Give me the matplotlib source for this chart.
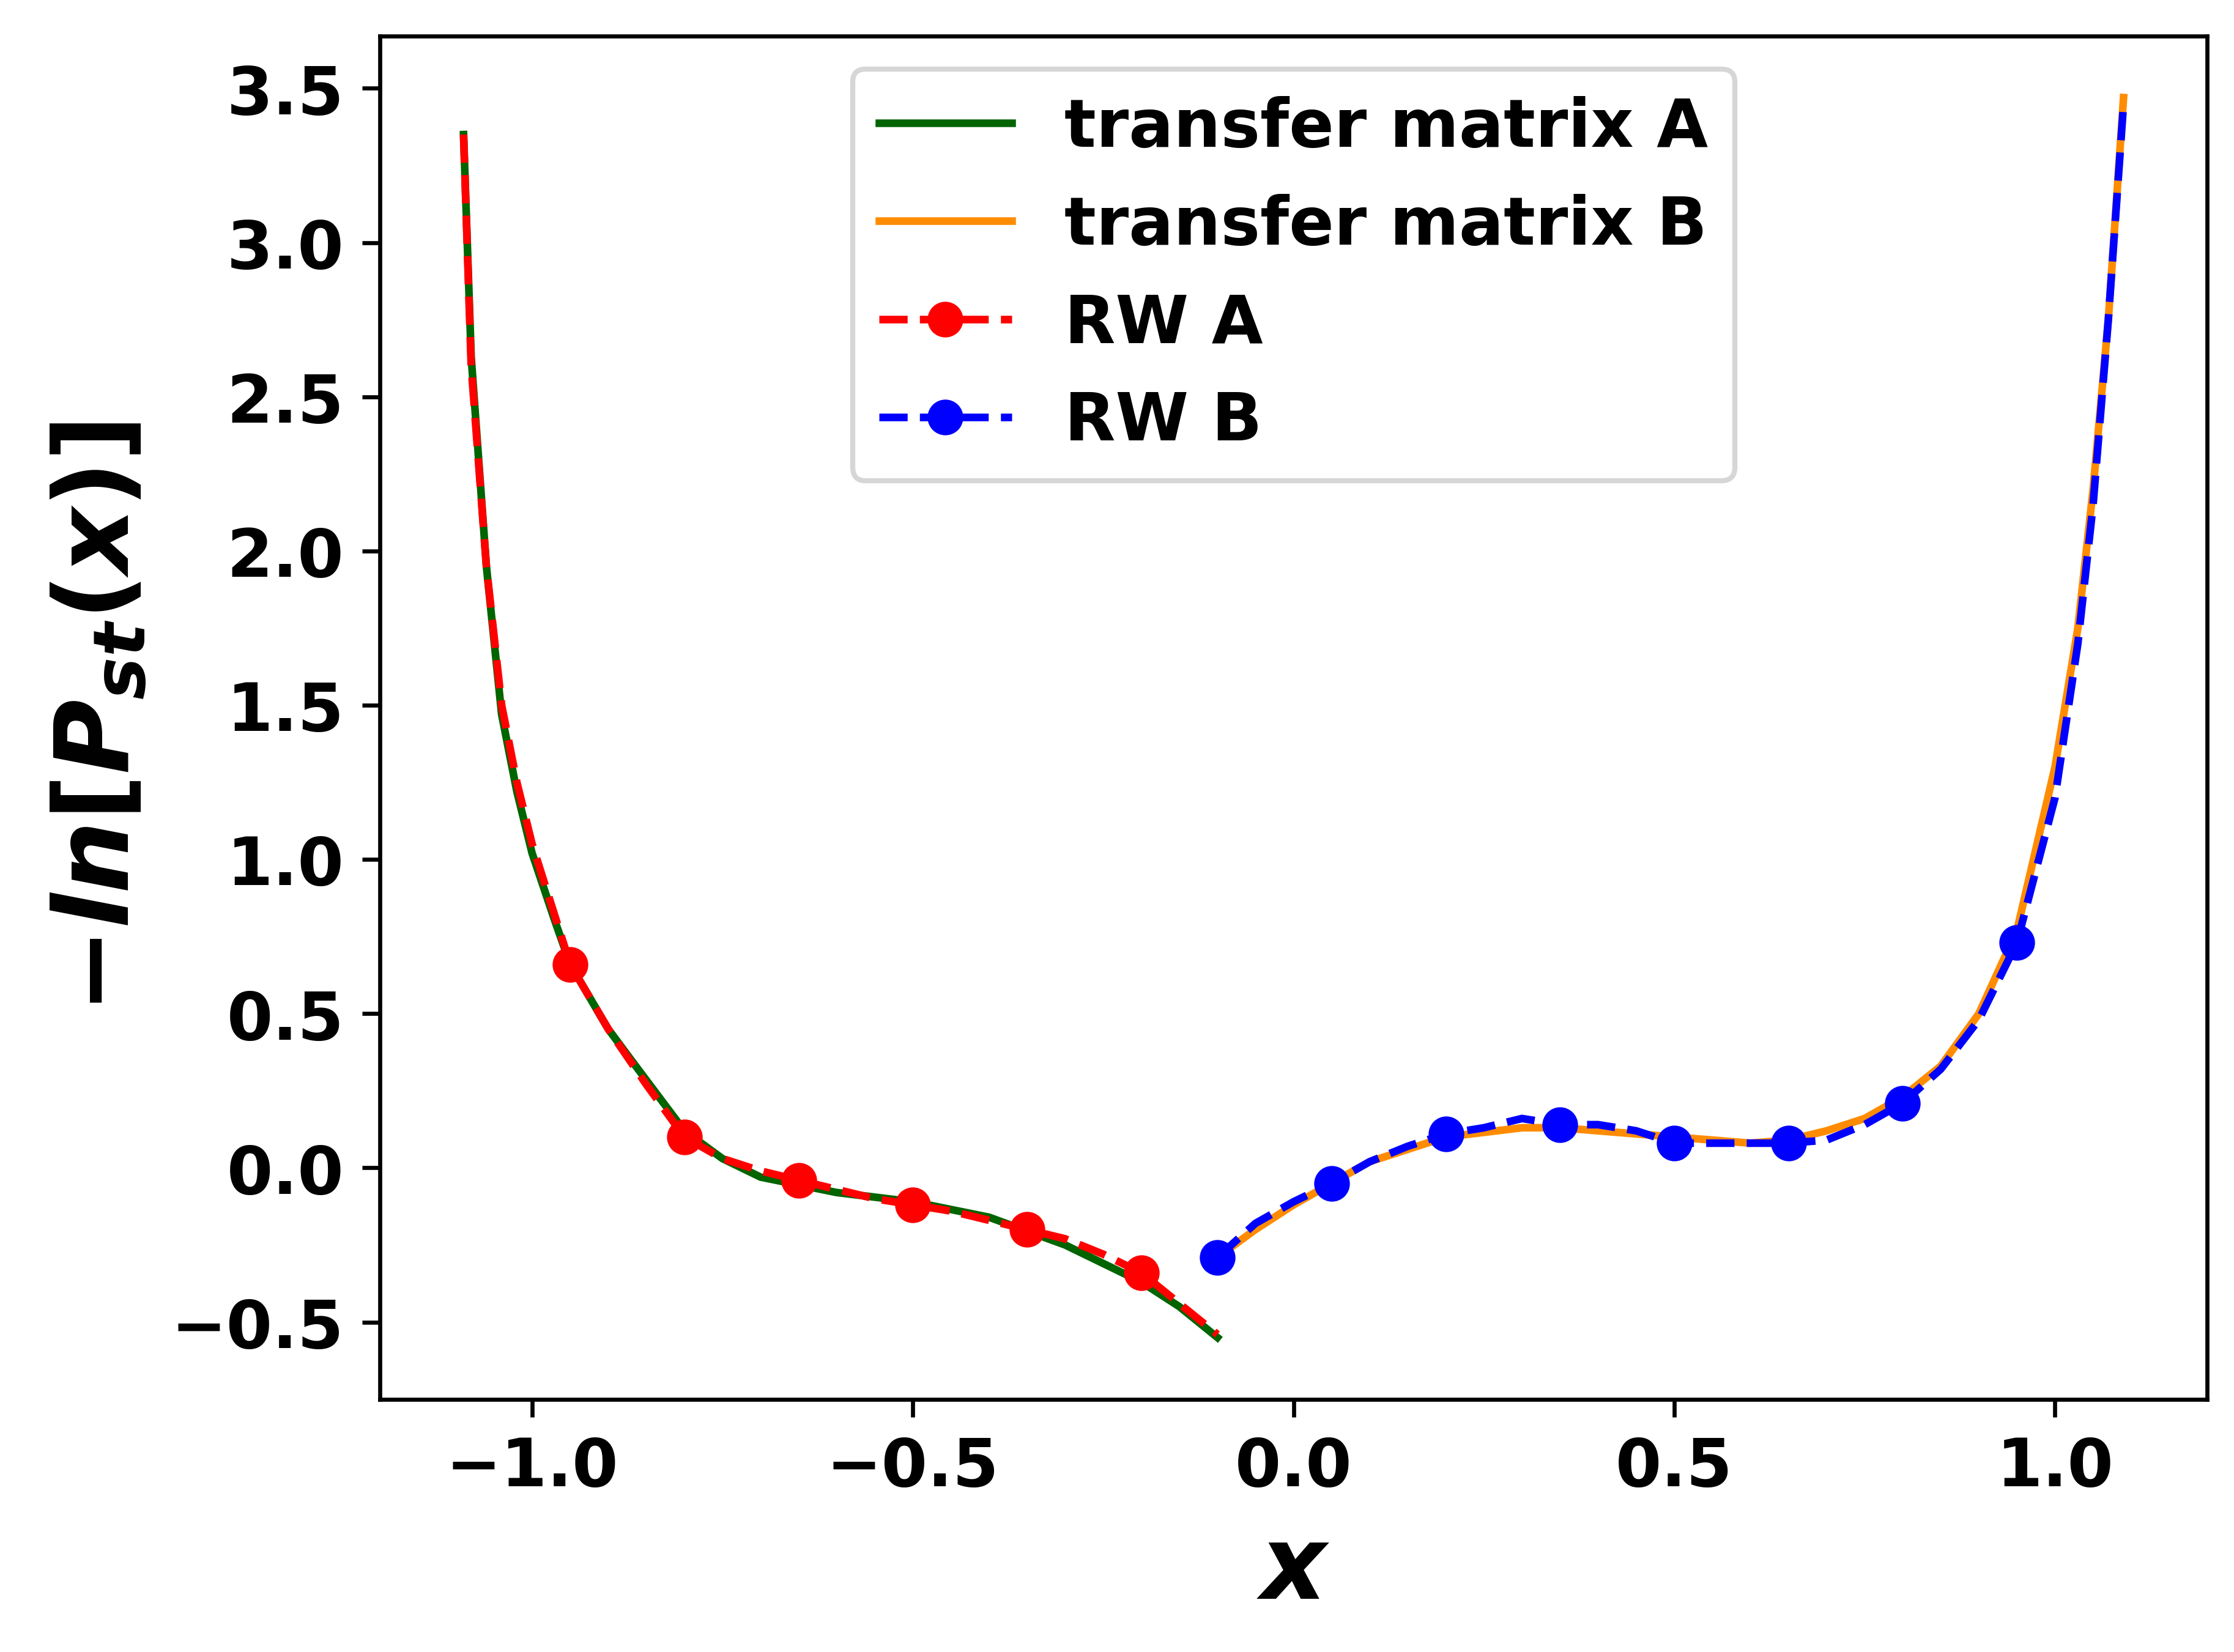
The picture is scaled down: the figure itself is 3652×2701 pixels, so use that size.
import numpy as np
import matplotlib.pyplot as plt

# transfer matrix curves
xa = [-1.09, -1.08, -1.06, -1.04, -1.02, -1.0, -0.97, -0.95, -0.9, -0.87, -0.8, -0.75, -0.7,
      -0.6, -0.5, -0.4, -0.3, -0.2, -0.15, -0.1]
ya = [3.35, 2.63, 1.95, 1.47, 1.22, 1.02, 0.8, 0.66, 0.45, 0.35, 0.12, 0.03, -0.03,
      -0.08, -0.11, -0.16, -0.25, -0.37, -0.45, -0.55]
xb = [-0.1, -0.05, 0.0, 0.05, 0.1, 0.2, 0.3, 0.35, 0.4, 0.5, 0.6, 0.65, 0.7, 0.75, 0.8,
      0.85, 0.9, 0.95, 1.0, 1.03, 1.05, 1.07, 1.09]
yb = [-0.29, -0.2, -0.12, -0.05, 0.02, 0.10, 0.13, 0.13, 0.12, 0.10, 0.08, 0.09, 0.12, 0.16, 0.23,
      0.33, 0.5, 0.77, 1.3, 1.75, 2.2, 2.75, 3.47]

# random walk curves (markers on every 0.15)
rxa = [-1.09, -1.08, -1.06, -1.04, -1.02, -1.0, -0.95, -0.9, -0.85, -0.8, -0.75, -0.7, -0.65,
       -0.6, -0.55, -0.5, -0.45, -0.4, -0.35, -0.3, -0.25, -0.2, -0.15, -0.1]
rya = [3.35, 2.6, 1.95, 1.5, 1.25, 1.05, 0.66, 0.45, 0.27, 0.10, 0.03, -0.01, -0.04,
       -0.07, -0.1, -0.12, -0.14, -0.17, -0.2, -0.23, -0.28, -0.34, -0.44, -0.54]
rxb = [-0.1, -0.05, 0.0, 0.05, 0.1, 0.15, 0.2, 0.25, 0.3, 0.35, 0.4, 0.45, 0.5, 0.55, 0.6,
       0.65, 0.7, 0.75, 0.8, 0.85, 0.9, 0.95, 1.0, 1.03, 1.05, 1.07, 1.09]
ryb = [-0.29, -0.18, -0.11, -0.05, 0.02, 0.07, 0.11, 0.13, 0.16, 0.14, 0.14, 0.12, 0.08, 0.08, 0.08,
       0.08, 0.09, 0.14, 0.21, 0.32, 0.48, 0.73, 1.2, 1.7, 2.15, 2.75, 3.45]
marks_a = [6, 9, 12, 15, 18, 21]
marks_b = [0, 3, 6, 9, 12, 15, 18, 21]

plt.rcParams['font.weight'] = 'bold'
fig = plt.figure(figsize=(6.087, 4.503), dpi=600)
ax = fig.add_axes([0.170, 0.153, 0.818, 0.825])
ax.plot(xa, ya, color='darkgreen', lw=1.5, label='transfer matrix A')
ax.plot(xb, yb, color='darkorange', lw=1.5, label='transfer matrix B')
ax.plot(rxa, rya, '--o', color='red', lw=1.5, ms=6, markevery=marks_a, label='RW A')
ax.plot(rxb, ryb, '--o', color='blue', lw=1.5, ms=6, markevery=marks_b, label='RW B')
ax.set_xlim(-1.2, 1.2)
ax.set_ylim(-0.75, 3.67)
ax.set_xticks([-1.0, -0.5, 0.0, 0.5, 1.0])
ax.set_yticks(np.arange(-0.5, 3.6, 0.5))
ax.tick_params(labelsize=13)
for t in ax.get_xticklabels() + ax.get_yticklabels():
    t.set_fontweight('bold')
ax.set_xlabel(r'$x$', fontsize=20)
ax.set_ylabel(r'$-ln[P_{st}(x)]$', fontsize=20)
ax.legend(loc='upper center', fontsize=13, prop={'weight': 'bold', 'size': 13})
fig.savefig('out.png', dpi=600)
